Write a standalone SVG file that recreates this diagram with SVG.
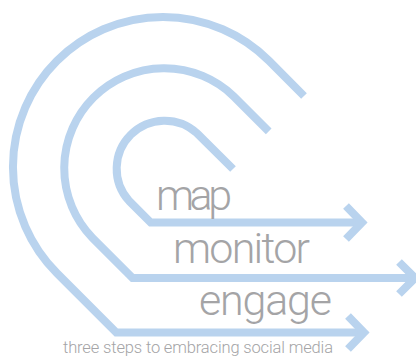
<svg xmlns="http://www.w3.org/2000/svg" width="416" height="356" viewBox="0 0 416 356">
<style>
.c{fill:none;stroke:#b9d3ee;stroke-width:8;stroke-linejoin:miter;stroke-linecap:butt}
.t{font-family:Roboto,"Liberation Sans",Arial,sans-serif;font-weight:300;fill:#a4a4a6}
.big{font-size:43px}
.tag{font-size:16.5px}
</style>
<rect width="416" height="356" fill="#fff"/>
<g id="connectors">
<path class="c" d="M233,169 L196.9,133.1 A48,48 0 0 0 129.1,200.9 L150.7,222.5 H362"/>
<path class="c" d="M346,206 L362,222.5 L346,239"/>
<path class="c" d="M268.7,131.3 L233.7,96.3 A100,100 0 0 0 92.3,237.7 L132.6,278 H415"/>
<path class="c" d="M399,262 L415,278 L399,294"/>
<path class="c" d="M304,96 L269.1,60.9 A150,150 0 0 0 56.9,273.1 L116.3,332.5 H364"/>
<path class="c" d="M348,316 L364,332.5 L348,349"/>
</g>
<g id="map"><text class="t big" x="156" y="210" textLength="76">map</text></g>
<g id="monitor"><text class="t big" x="173" y="263" textLength="137">monitor</text></g>
<g id="engage"><text class="t big" x="199" y="315" textLength="133">engage</text></g>
<g id="tagline"><text class="t tag" x="63" y="353" textLength="270">three steps to embracing social media</text></g>
</svg>
